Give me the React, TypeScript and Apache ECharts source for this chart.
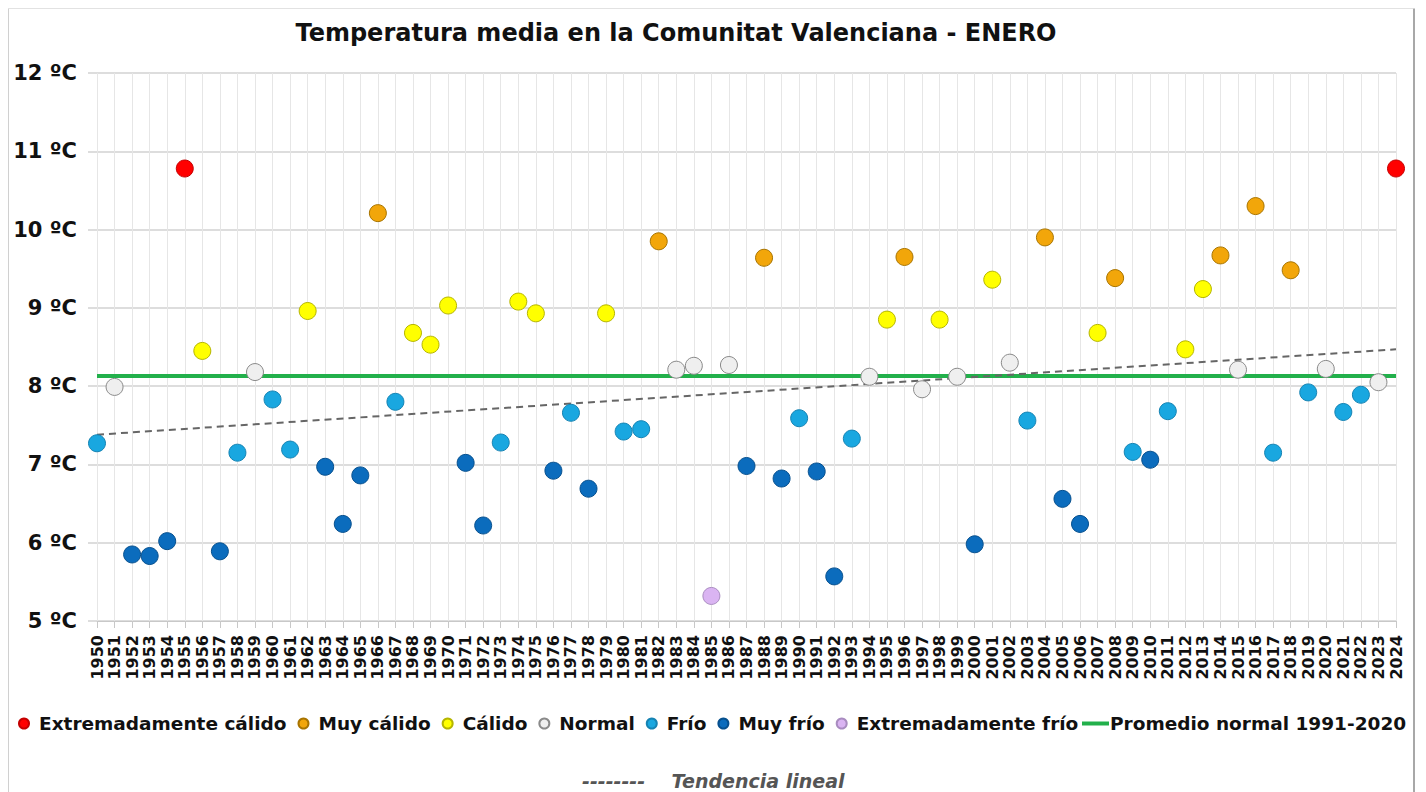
import React, { useEffect, useRef } from "react";
import * as echarts from "echarts";

const years = [
  "1950", "1951", "1952", "1953", "1954", "1955", "1956", "1957", "1958", "1959",
  "1960", "1961", "1962", "1963", "1964", "1965", "1966", "1967", "1968", "1969",
  "1970", "1971", "1972", "1973", "1974", "1975", "1976", "1977", "1978", "1979",
  "1980", "1981", "1982", "1983", "1984", "1985", "1986", "1987", "1988", "1989",
  "1990", "1991", "1992", "1993", "1994", "1995", "1996", "1997", "1998", "1999",
  "2000", "2001", "2002", "2003", "2004", "2005", "2006", "2007", "2008", "2009",
  "2010", "2011", "2012", "2013", "2014", "2015", "2016", "2017", "2018", "2019",
  "2020", "2021", "2022", "2023", "2024",
];

const temps = [
  7.27, 7.99, 5.85, 5.83, 6.02, 10.78, 8.45, 5.89, 7.15, 8.18,
  7.83, 7.19, 8.96, 6.97, 6.24, 6.86, 10.21, 7.80, 8.68, 8.53,
  9.03, 7.02, 6.22, 7.28, 9.08, 8.93, 6.92, 7.66, 6.69, 8.93,
  7.42, 7.45, 9.85, 8.21, 8.26, 5.32, 8.27, 6.98, 9.64, 6.82,
  7.59, 6.91, 5.57, 7.33, 8.12, 8.85, 9.65, 7.96, 8.85, 8.12,
  5.98, 9.36, 8.30, 7.56, 9.90, 6.56, 6.24, 8.68, 9.38, 7.16,
  7.06, 7.68, 8.47, 9.24, 9.67, 8.21, 10.30, 7.15, 9.48, 7.92,
  8.22, 7.67, 7.89, 8.05, 10.78,
];

const classes = [
  "F", "N", "MF", "MF", "MF", "EC", "C", "MF", "F", "N",
  "F", "F", "C", "MF", "MF", "MF", "MC", "F", "C", "C",
  "C", "MF", "MF", "F", "C", "C", "MF", "F", "MF", "C",
  "F", "F", "MC", "N", "N", "EF", "N", "MF", "MC", "MF",
  "F", "MF", "MF", "F", "N", "C", "MC", "N", "C", "N",
  "MF", "C", "N", "F", "MC", "MF", "MF", "C", "MC", "F",
  "MF", "F", "C", "C", "MC", "N", "MC", "F", "MC", "F",
  "N", "F", "F", "N", "EC",
];

const classCodes = ["EC", "MC", "C", "N", "F", "MF", "EF"];
const classNames = [
  "Extremadamente cálido",
  "Muy cálido",
  "Cálido",
  "Normal",
  "Frío",
  "Muy frío",
  "Extremadamente frío",
];
const classColors = ["#ff0000", "#f2a60a", "#ffff00", "#efefef", "#19a7e0", "#0b6cbd", "#dab4f2"];
const classBorders = ["#c40000", "#a87400", "#b5b500", "#8a8a8a", "#1583b3", "#07508e", "#a98cc0"];

const normalName = "Promedio normal 1991-2020";
const normalValue = [8.13, 8.13];
const normalYears = ["1950", "2024"];

const trendName = "Tendencia lineal";
const trendValues = [7.38, 8.47];
const trendYears = ["1950", "2024"];

const title = "Temperatura media en la Comunitat Valenciana - ENERO";
const yMin = 5;
const yMax = 12;
const yStep = 1;

const FONT = "DejaVu Sans";

export default function App() {
  const ref = useRef<HTMLDivElement>(null);

  useEffect(() => {
    if (!ref.current) return;
    const chart = echarts.init(ref.current, undefined, { renderer: "svg" });

    const scatterSeries = classCodes.map((code, ci) => ({
      name: classNames[ci],
      type: "scatter",
      symbol: "circle",
      symbolSize: 17,
      z: 5,
      itemStyle: {
        color: classColors[ci],
        borderColor: classBorders[ci],
        borderWidth: 1,
        opacity: 1,
      },
      data: years
        .map((y, i) => (classes[i] === code ? [y, temps[i]] : null))
        .filter((d) => d !== null),
    }));

    const option: any = {
      animation: false,
      backgroundColor: "#ffffff",
      title: {
        text: title,
        left: 671,
        top: 16,
        textAlign: "center",
        textStyle: { fontFamily: FONT, fontWeight: "bold", fontSize: 24, color: "#111" },
      },
      grid: { left: 97, right: 30, top: 73, bottom: 171, containLabel: false },
      legend: [
        {
          data: classNames,
          left: 18,
          top: 714,
          padding: 0,
          icon: "circle",
          itemWidth: 10,
          itemHeight: 10,
          itemGap: 11,
          selectedMode: false,
          textStyle: { fontFamily: FONT, fontWeight: "bold", fontSize: 18.5, color: "#111", padding: [0, 0, 0, 5] },
        },
        {
          data: [{ name: normalName, icon: "rect" }],
          left: 1082,
          top: 714,
          padding: 0,
          itemWidth: 27,
          itemHeight: 4,
          selectedMode: false,
          textStyle: { fontFamily: FONT, fontWeight: "bold", fontSize: 18.5, color: "#111", padding: [0, 0, 0, -4] },
        },
        {
          data: [{ name: trendName, icon: "none" }],
          left: 577,
          top: 771,
          padding: 0,
          itemWidth: 0,
          itemHeight: 10,
          selectedMode: false,
          formatter: (n: string) => "--------    " + n,
          textStyle: { fontFamily: FONT, fontWeight: "bold", fontStyle: "italic", fontSize: 19, color: "#555" },
        },
      ],
      xAxis: {
        type: "category",
        data: years,
        boundaryGap: false,
        axisLine: { show: true, lineStyle: { color: "#c8c8c8", width: 1 } },
        axisTick: { show: true, interval: 0, length: 7, lineStyle: { color: "#c8c8c8" } },
        axisLabel: {
          interval: 0,
          rotate: 90,
          margin: 14,
          fontFamily: FONT,
          fontWeight: "bold",
          fontSize: 16,
          color: "#111",
        },
        splitLine: { show: true, interval: 0, lineStyle: { color: "#e6e6e6", width: 1 } },
      },
      yAxis: {
        type: "value",
        min: yMin,
        max: yMax,
        interval: yStep,
        axisLine: { show: false },
        axisTick: { show: true, length: 9, lineStyle: { color: "#d2d2d2", width: 1.5 } },
        axisLabel: {
          formatter: "{value} ºC",
          margin: 20,
          fontFamily: FONT,
          fontWeight: "bold",
          fontSize: 21,
          color: "#111",
        },
        splitLine: { show: true, lineStyle: { color: "#d2d2d2", width: 1.5 } },
      },
      graphic: [
        {
          type: "line",
          shape: { x1: 8.5, y1: 8.5, x2: 1413, y2: 8.5 },
          style: { stroke: "#e2e2e2", lineWidth: 1 },
          silent: true,
        },
        {
          type: "line",
          shape: { x1: 8.5, y1: 8.5, x2: 8.5, y2: 792 },
          style: { stroke: "#d0d0d0", lineWidth: 1 },
          silent: true,
        },
        {
          type: "line",
          shape: { x1: 1414, y1: 8.5, x2: 1414, y2: 792 },
          style: { stroke: "#a8a8a8", lineWidth: 2 },
          silent: true,
        },
      ],
      series: [
        {
          name: normalName,
          type: "line",
          symbol: "none",
          z: 2,
          lineStyle: { color: "#22b04b", width: 4 },
          itemStyle: { color: "#22b04b" },
          data: normalYears.map((y, i) => [y, normalValue[i]]),
        },
        {
          name: trendName,
          type: "line",
          symbol: "none",
          z: 3,
          lineStyle: { color: "#666666", width: 2, type: [7, 5] },
          itemStyle: { color: "#666666" },
          data: trendYears.map((y, i) => [y, trendValues[i]]),
        },
        ...scatterSeries,
      ],
    };

    chart.setOption(option);
    return () => chart.dispose();
  }, []);

  return (
    <div
      ref={ref}
      style={{ position: "fixed", left: 0, top: 0, width: 1426, height: 792, background: "#fff" }}
    />
  );
}
